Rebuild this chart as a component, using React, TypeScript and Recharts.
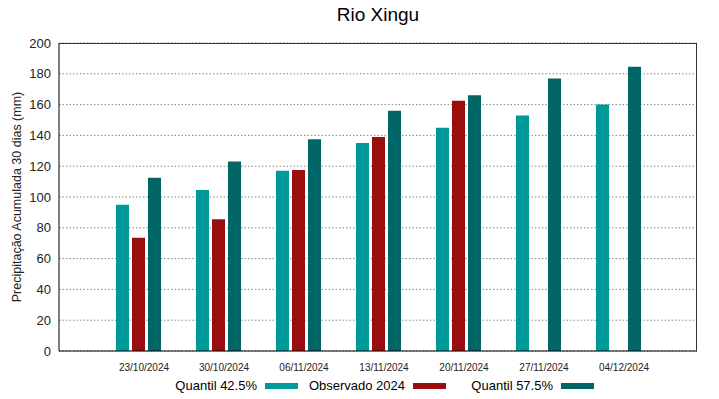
import { BarChart, Bar, XAxis, YAxis, CartesianGrid, Legend } from 'recharts';

const datas = ['23/10/2024', '30/10/2024', '06/11/2024', '13/11/2024', '20/11/2024', '27/11/2024', '04/12/2024'];
const quantil425 = [95, 104.5, 117, 135, 145, 153, 160];
const observado2024: (number | null)[] = [73.5, 85.5, 117.5, 139, 162.5, null, null];
const quantil575 = [112.5, 123, 137.5, 156, 166, 177, 184.5];
const yTicks = [0, 20, 40, 60, 80, 100, 120, 140, 160, 180, 200];

const series = [
  { key: 'q425', name: 'Quantil 42.5%', color: '#009999' },
  { key: 'obs', name: 'Observado 2024', color: '#990f0f' },
  { key: 'q575', name: 'Quantil 57.5%', color: '#006666' },
];

const data = datas.map((d, i) => ({
  data: d,
  q425: quantil425[i],
  obs: observado2024[i],
  q575: quantil575[i],
}));

const W = 719;
const H = 399;
const margin = { top: 43, right: 22, bottom: 0, left: 0 };
const yAxisW = 59;
const xAxisH = 22;
const legendH = 26;
const font = '"Liberation Sans", Arial, sans-serif';

function LegendBox() {
  return (
    <div style={{ position: 'relative', height: legendH, fontFamily: font, fontSize: 13, color: '#000' }}>
      {series.map((s, i) => (
        <div key={s.key}>
          <div
            style={{
              position: 'absolute',
              right: 697 - (257 + i * 148),
              top: 5,
              whiteSpace: 'nowrap',
              lineHeight: '15px',
            }}
          >
            {s.name}
          </div>
          <div
            style={{
              position: 'absolute',
              left: 265 + i * 148,
              top: 10,
              width: 33,
              height: 6,
              background: s.color,
            }}
          />
        </div>
      ))}
    </div>
  );
}

export default function App() {
  return (
    <div style={{ position: 'fixed', left: 0, top: 0, width: W, height: H, background: '#fff' }}>
      <div
        style={{
          position: 'absolute',
          top: 4,
          left: 59,
          width: 638,
          textAlign: 'center',
          fontFamily: font,
          fontSize: 19,
          color: '#000',
        }}
      >
        Rio Xingu
      </div>
      <BarChart width={W} height={H} data={data} margin={margin} barSize={13} barGap={3}>
        <CartesianGrid vertical={false} stroke="#888" strokeDasharray="1.5 2" />
        <XAxis
          dataKey="data"
          height={xAxisH}
          padding={{ left: 39, right: 39 }}
          tickLine={false}
          axisLine={{ stroke: '#000' }}
          tickMargin={7}
          tick={{ fontSize: 10, fill: '#222', fontFamily: font, dx: 6 }}
          interval={0}
        />
        <YAxis
          width={yAxisW}
          domain={[0, 200]}
          ticks={yTicks}
          tickLine={false}
          axisLine={{ stroke: '#000' }}
          tick={{ fontSize: 13, fill: '#222', fontFamily: font }}
          label={{
            content: () => (
              <text
                x={21}
                y={197}
                transform="rotate(-90 21 197)"
                textAnchor="middle"
                fontSize={12.5}
                fontFamily={font}
                fill="#222"
              >
                Precipitação Acumulada 30 dias (mm)
              </text>
            ),
          }}
        />
        {series.map((s) => (
          <Bar key={s.key} dataKey={s.key} name={s.name} fill={s.color} isAnimationActive={false} />
        ))}
        <Legend verticalAlign="bottom" content={() => <LegendBox />} />
      </BarChart>
      {/* moldura do gráfico */}
      <div
        style={{
          position: 'absolute',
          left: margin.left + yAxisW,
          top: margin.top - 0.5,
          width: W - margin.left - margin.right - yAxisW,
          height: H - margin.top - xAxisH - legendH,
          borderTop: '1px solid #333',
          borderRight: '1px solid #333',
          boxSizing: 'border-box',
          pointerEvents: 'none',
        }}
      />
    </div>
  );
}
